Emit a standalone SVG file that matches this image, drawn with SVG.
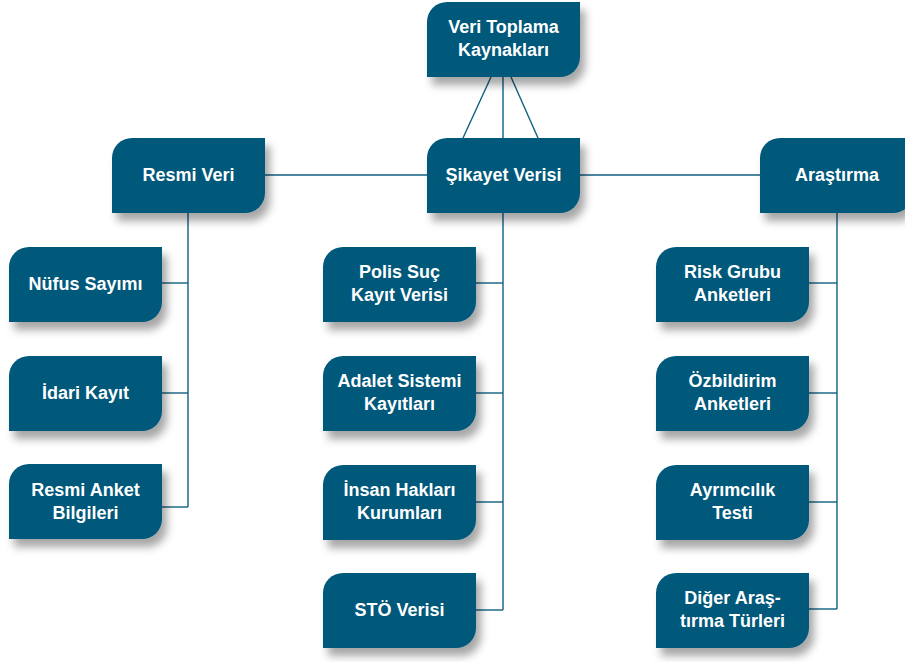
<svg xmlns="http://www.w3.org/2000/svg" xmlns:xlink="http://www.w3.org/1999/xlink" width="905" height="662" viewBox="0 0 905 662">
<style>
.bx{fill:#05587a;filter:url(#sh)}
.t{font-family:"Liberation Sans",Arial,sans-serif;font-weight:bold;font-size:18px;fill:#ffffff;text-anchor:middle}
.c{stroke:#0f5f80;stroke-width:1.4;fill:none}
</style>
<defs>
<filter id="sh" x="-20%" y="-20%" width="150%" height="160%">
<feDropShadow dx="5" dy="8" stdDeviation="4.5" flood-color="#000" flood-opacity="0.35"/>
</filter>
<path id="box" d="M20,0 H153 V55 A20,20 0 0 1 133,75 H0 V20 A20,20 0 0 1 20,0 Z"/>
</defs>
<rect width="905" height="662" fill="#ffffff"/>
<g id="connectors" class="c">
<line x1="491" y1="77" x2="463" y2="138"/>
<line x1="503" y1="77" x2="503" y2="138"/>
<line x1="511" y1="77" x2="538" y2="138"/>
<line x1="265" y1="175" x2="427" y2="175"/>
<line x1="580" y1="175" x2="760" y2="175"/>
<polyline points="188,213 188,507"/>
<line x1="162" y1="283" x2="188" y2="283"/>
<line x1="162" y1="393" x2="188" y2="393"/>
<line x1="162" y1="507" x2="188" y2="507"/>
<polyline points="503,213 503,610"/>
<line x1="476" y1="283" x2="503" y2="283"/>
<line x1="476" y1="393" x2="503" y2="393"/>
<line x1="476" y1="502" x2="503" y2="502"/>
<line x1="476" y1="610" x2="503" y2="610"/>
<polyline points="837,213 837,609"/>
<line x1="809" y1="283" x2="837" y2="283"/>
<line x1="809" y1="393" x2="837" y2="393"/>
<line x1="809" y1="502" x2="837" y2="502"/>
<line x1="809" y1="609" x2="837" y2="609"/>
</g>
<g id="n-top"><use href="#box" x="427" y="2" class="bx"/><text class="t" x="503.5" y="33">Veri Toplama</text><text class="t" x="503.5" y="56">Kaynakları</text></g>
<g id="n-sikayet"><use href="#box" x="427" y="138" class="bx"/><text class="t" x="503.5" y="181">Şikayet Verisi</text></g>
<g id="n-resmi"><use href="#box" x="112" y="138" class="bx"/><text class="t" x="188.5" y="181">Resmi Veri</text></g>
<g id="n-arastirma"><use href="#box" x="760" y="138" class="bx"/><text class="t" x="837" y="181">Araştırma</text></g>
<g id="n-nufus"><use href="#box" x="9" y="247" class="bx"/><text class="t" x="85.5" y="290">Nüfus Sayımı</text></g>
<g id="n-idari"><use href="#box" x="9" y="356" class="bx"/><text class="t" x="85.5" y="399">İdari Kayıt</text></g>
<g id="n-anket"><use href="#box" x="9" y="464" class="bx"/><text class="t" x="85.5" y="496">Resmi Anket</text><text class="t" x="85.5" y="519">Bilgileri</text></g>
<g id="n-polis"><use href="#box" x="323" y="247" class="bx"/><text class="t" x="399.5" y="278">Polis Suç</text><text class="t" x="399.5" y="301">Kayıt Verisi</text></g>
<g id="n-adalet"><use href="#box" x="323" y="356" class="bx"/><text class="t" x="399.5" y="387">Adalet Sistemi</text><text class="t" x="399.5" y="410">Kayıtları</text></g>
<g id="n-insan"><use href="#box" x="323" y="465" class="bx"/><text class="t" x="399.5" y="496">İnsan Hakları</text><text class="t" x="399.5" y="519">Kurumları</text></g>
<g id="n-sto"><use href="#box" x="323" y="573" class="bx"/><text class="t" x="399.5" y="616">STÖ Verisi</text></g>
<g id="n-risk"><use href="#box" x="656" y="247" class="bx"/><text class="t" x="732.5" y="278">Risk Grubu</text><text class="t" x="732.5" y="301">Anketleri</text></g>
<g id="n-ozbildirim"><use href="#box" x="656" y="356" class="bx"/><text class="t" x="732.5" y="387">Özbildirim</text><text class="t" x="732.5" y="410">Anketleri</text></g>
<g id="n-ayrimcilik"><use href="#box" x="656" y="465" class="bx"/><text class="t" x="732.5" y="496">Ayrımcılık</text><text class="t" x="732.5" y="519">Testi</text></g>
<g id="n-diger"><use href="#box" x="656" y="573" class="bx"/><text class="t" x="732.5" y="604">Diğer Araş-</text><text class="t" x="732.5" y="627">tırma Türleri</text></g>
</svg>
